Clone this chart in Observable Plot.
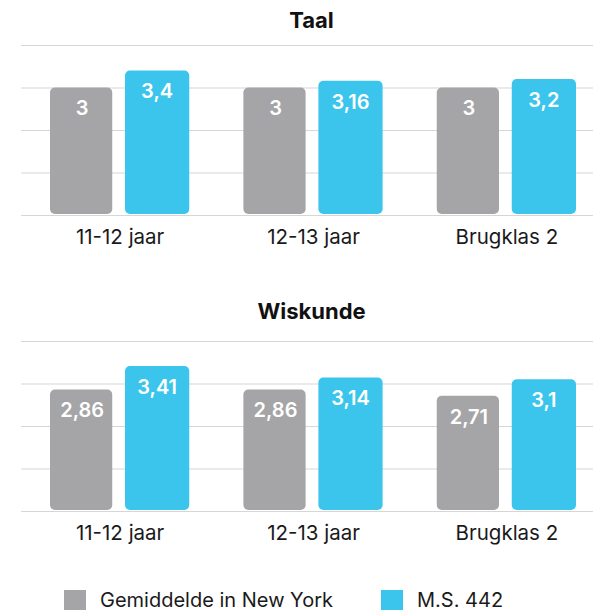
<!DOCTYPE html>
<html>
<head>
<meta charset="utf-8">
<script src="https://cdn.jsdelivr.net/npm/d3@7"></script>
<script src="https://cdn.jsdelivr.net/npm/@observablehq/plot@0.6"></script>
<style>
  body { margin: 0; background: #fff; font-family: Inter, "Liberation Sans", sans-serif; }
  #wrap { width: 593px; }
  #wrap svg { display: block; }
  .legend { position: relative; height: 21px; font-size: 20px; color: #1a1a1a; }
  .legend .sw { position: absolute; top: 0; width: 22px; height: 20px; }
  .legend .lb { position: absolute; top: 0px; line-height: 20px; white-space: nowrap; }
</style>
</head>
<body>
<div id="wrap"></div>
<script>
const groups = ["11-12 jaar", "12-13 jaar", "Brugklas 2"];
const series = ["Gemiddelde in New York", "M.S. 442"];
const colors = ["#a5a5a7", "#3bc5ec"];
const yTicks = [0, 1, 2, 3, 4];
const panelTitles = ["Taal", "Wiskunde"];
const taalNY = [3, 3, 3];
const taalMS = [3.4, 3.16, 3.2];
const wiskNY = [2.86, 2.86, 2.71];
const wiskMS = [3.41, 3.14, 3.1];

const fmt = v => String(v).replace(".", ",");

function panel(title, ny, ms, height, marginBottom, titleDy) {
  const dNY = groups.map((g, i) => ({group: g, value: ny[i]}));
  const dMS = groups.map((g, i) => ({group: g, value: ms[i]}));
  return Plot.plot({
    width: 593,
    height,
    marginTop: 45,
    marginBottom,
    marginLeft: 21,
    marginRight: 0,
    style: {fontFamily: "Inter, 'Liberation Sans', sans-serif", fontSize: "20.5px", color: "#1a1a1a", background: "#fff"},
    x: {type: "band", domain: groups, range: [21, 605], paddingInner: 0.28, paddingOuter: 0.15, round: false,
        tickSize: 0, tickPadding: 14, label: null},
    y: {domain: [0, 4], axis: null},
    marks: [
      Plot.ruleY(yTicks, {stroke: "#d6d6d6", strokeWidth: 1.2}),
      Plot.barY(dNY, {x: "group", y: "value", fill: colors[0], insetRight: 77, insetBottom: 1, rx: 5}),
      Plot.barY(dMS, {x: "group", y: "value", fill: colors[1], insetLeft: 75, insetBottom: 1, rx: 5}),
      Plot.text(dNY, {x: "group", y: "value", text: d => fmt(d.value), dx: -38, dy: 21, fill: "#fff", fontSize: 20, fontWeight: 600, lineAnchor: "middle"}),
      Plot.text(dMS, {x: "group", y: "value", text: d => fmt(d.value), dx: 37, dy: 21, fill: "#fff", fontSize: 20, fontWeight: 600, lineAnchor: "middle"}),
      Plot.text([title], {frameAnchor: "top", dx: 4, dy: titleDy, fontSize: 22, fontWeight: 700, fill: "#111", lineAnchor: "middle"})
    ]
  });
}

const wrap = document.getElementById("wrap");
wrap.appendChild(panel(panelTitles[0], taalNY, taalMS, 296, 81, -25));
wrap.appendChild(panel(panelTitles[1], wiskNY, wiskMS, 294, 79, -30));

const legend = document.createElement("div");
legend.className = "legend";
const pos = [[64, 100], [381, 417]];
series.forEach((s, i) => {
  const sw = document.createElement("div");
  sw.className = "sw";
  sw.style.left = pos[i][0] + "px";
  sw.style.background = colors[i];
  const lb = document.createElement("div");
  lb.className = "lb";
  lb.style.left = pos[i][1] + "px";
  lb.textContent = s;
  legend.appendChild(sw);
  legend.appendChild(lb);
});
wrap.appendChild(legend);
</script>
</body>
</html>
